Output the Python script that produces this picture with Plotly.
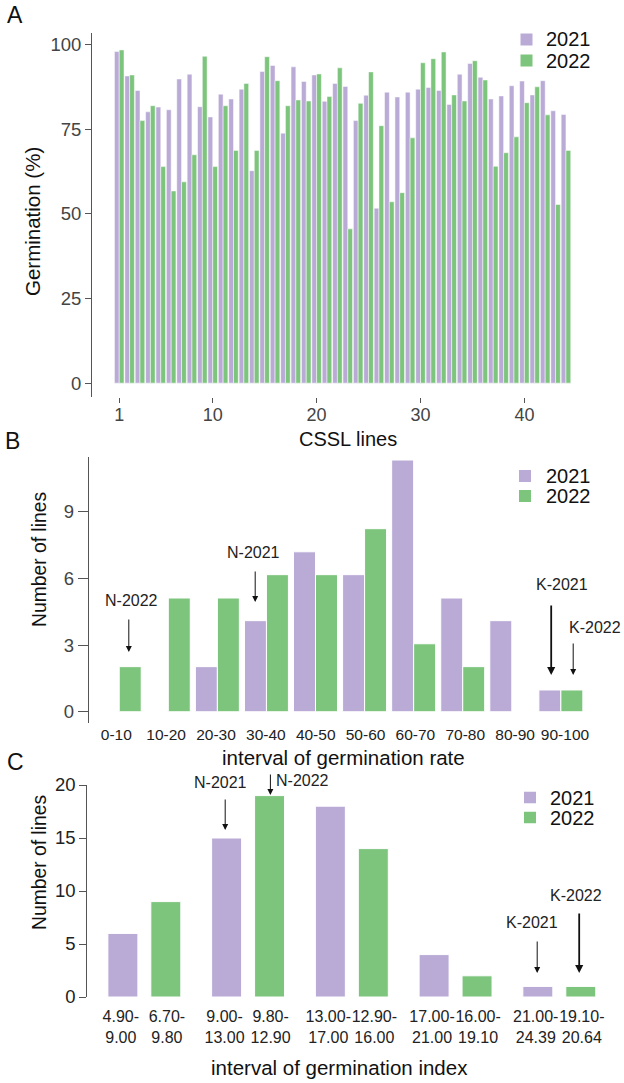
import plotly.graph_objects as go

# ---------------- data ----------------
lines = list(range(1, 45))
germ_2021 = [98.0, 90.8, 86.5, 80.2, 81.6, 80.8, 89.9, 91.3, 81.7, 78.7,
             85.4, 84.0, 86.9, 62.8, 92.1, 93.9, 73.9, 93.5, 89.2, 91.1,
             83.3, 88.6, 87.7, 77.6, 85.1, 51.7, 86.0, 84.6, 86.0, 86.9,
             87.4, 86.5, 82.4, 91.3, 94.5, 90.4, 84.0, 84.9, 87.9, 89.3,
             85.2, 89.4, 80.5, 79.4]
germ_2022 = [98.5, 91.1, 77.6, 82.0, 64.0, 56.8, 59.5, 67.5, 96.6, 64.0,
             82.0, 68.8, 88.6, 68.8, 96.5, 89.4, 82.0, 83.7, 83.4, 91.4,
             84.7, 93.2, 45.6, 82.7, 92.0, 76.1, 53.6, 56.3, 72.5, 94.7,
             95.9, 97.9, 85.2, 83.4, 95.3, 89.6, 64.1, 68.1, 72.8, 82.9,
             87.6, 79.3, 52.8, 68.8]

rate_intervals = ['0-10', '10-20', '20-30', '30-40', '40-50',
                  '50-60', '60-70', '70-80', '80-90', '90-100']
rate_2021 = [0, 0, 2.03, 4.1, 7.2, 6.17, 11.33, 5.12, 4.1, 0.98]
rate_2022 = [2.03, 5.12, 5.12, 6.17, 6.17, 8.24, 3.06, 2.03, 0, 0.98]

index_groups = [0, 1, 2, 3, 4]
index_labels_2021 = ['4.90-<br>9.00', '9.00-<br>13.00', '13.00-<br>17.00',
                     '17.00-<br>21.00', '21.00-<br>24.39']
index_labels_2022 = ['6.70-<br>9.80', '9.80-<br>12.90', '12.90-<br>16.00',
                     '16.00-<br>19.10', '19.10-<br>20.64']
index_2021 = [6, 15, 18, 4, 1]
index_2022 = [9, 19, 14, 2, 1]

series_names = ['2021', '2022']

# ---------------- style ----------------
W, H = 624, 1083
PURPLE = '#B9AAD6'
GREEN = '#7DC47D'
FONT = 'Arial, Liberation Sans, sans-serif'
TICKC = '#444444'
AXC = '#555555'
TXT = '#111111'


def px(x):
    return x / W


def py(y):
    return 1 - y / H


fig = go.Figure()

# ---- panel A ----
wa = 0.46
fig.add_trace(go.Bar(x=lines, y=germ_2021, name=series_names[0], marker_color=PURPLE,
                     marker_line=dict(color='white', width=0.5),
                     width=wa, offset=-wa, xaxis='x', yaxis='y', showlegend=False))
fig.add_trace(go.Bar(x=lines, y=germ_2022, name=series_names[1], marker_color=GREEN,
                     marker_line=dict(color='white', width=0.5),
                     width=wa, offset=0, xaxis='x', yaxis='y', showlegend=False))

# ---- panel B ----
wb = 0.448
bx = list(range(len(rate_intervals)))
fig.add_trace(go.Bar(x=bx, y=rate_2021, name=series_names[0], marker_color=PURPLE,
                     marker_line=dict(color='white', width=1),
                     width=wb, offset=-wb, xaxis='x2', yaxis='y2', showlegend=False))
fig.add_trace(go.Bar(x=bx, y=rate_2022, name=series_names[1], marker_color=GREEN,
                     marker_line=dict(color='white', width=1),
                     width=wb, offset=0, xaxis='x2', yaxis='y2', showlegend=False))
b_tickvals = [i * 1.016 - 0.06 for i in bx]

# ---- panel C ----
sep = 0.207
wc = 0.289
fig.add_trace(go.Bar(x=index_groups, y=index_2021, name=series_names[0], marker_color=PURPLE,
                     marker_line=dict(color='white', width=1),
                     width=wc, offset=-sep - wc / 2, xaxis='x3', yaxis='y3', showlegend=False))
fig.add_trace(go.Bar(x=index_groups, y=index_2022, name=series_names[1], marker_color=GREEN,
                     marker_line=dict(color='white', width=1),
                     width=wc, offset=sep - wc / 2, xaxis='x3', yaxis='y3', showlegend=False))

c_tickvals = []
c_ticktext = []
for g, l1, l2 in zip(index_groups, index_labels_2021, index_labels_2022):
    c_tickvals += [g - sep - 0.02, g + sep + 0.01]
    c_ticktext += [l1, l2]

yax_common = dict(showline=True, linecolor=AXC, linewidth=1, ticks='outside',
                  tickcolor=AXC, showgrid=False, zeroline=False, automargin=False)

fig.update_layout(
    width=W, height=H, autosize=False,
    margin=dict(l=0, r=0, t=0, b=0),
    paper_bgcolor='white', plot_bgcolor='white',
    barmode='overlay', showlegend=False,
    font=dict(family=FONT, color=TXT),
    xaxis=dict(domain=[px(92), px(575)], range=[-1.62, 44.87], anchor='y',
               tickvals=[1, 10, 20, 30, 40], ticks='outside', ticklen=5,
               tickcolor=AXC, showline=False, showgrid=False, zeroline=False,
               ticklabelstandoff=-4, automargin=False,
               tickfont=dict(family=FONT, size=18, color=TICKC)),
    yaxis=dict(domain=[py(397), py(33)], range=[-4.1, 103.5], anchor='x',
               tickvals=[0, 25, 50, 75, 100], ticklen=6,
               tickfont=dict(family=FONT, size=18.5, color=TICKC), **yax_common),
    xaxis2=dict(domain=[px(88.8), px(620)], range=[-0.62, 10.205], anchor='y2',
                tickvals=b_tickvals, ticktext=rate_intervals, ticks='', showline=False,
                showgrid=False, zeroline=False, tickangle=0, automargin=False,
                tickfont=dict(family=FONT, size=15.5, color='#222222')),
    yaxis2=dict(domain=[py(723.3), py(456.7)], range=[-0.52, 11.48], anchor='x2',
                tickvals=[0, 3, 6, 9], ticklen=10,
                tickfont=dict(family=FONT, size=18.5, color=TICKC), **yax_common),
    xaxis3=dict(domain=[px(87.2), px(620)], range=[-0.551, 4.585], anchor='y3',
                tickvals=c_tickvals, ticktext=c_ticktext, ticks='', showline=False,
                showgrid=False, zeroline=False, tickangle=0, automargin=False,
                ticklabelstandoff=8,
                tickfont=dict(family=FONT, size=16, color='#222222')),
    yaxis3=dict(domain=[py(997), py(785)], range=[0, 20], anchor='x3',
                tickvals=[0, 5, 10, 15, 20], ticklen=7,
                tickfont=dict(family=FONT, size=18.5, color='#222222'), **yax_common),
)

# axis titles (placed as in the reference)
for txt, tx, ty, size, ang in [('Germination (%)', 32, 222, 20.5, -90),
                               ('Number of lines', 39, 560, 19.3, -90),
                               ('Number of lines', 39, 863, 19.3, -90),
                               ('CSSL lines', 347.5, 439, 20, 0),
                               ('interval of germination rate', 343, 757, 20.5, 0),
                               ('interval of germination index', 339, 1067, 20.5, 0)]:
    fig.add_annotation(text=txt, x=px(tx), y=py(ty), xref='paper', yref='paper',
                       xanchor='center', yanchor='middle', textangle=ang,
                       showarrow=False, font=dict(size=size, family=FONT, color=TXT))

# manual legends (square + label), pixel positions
legend_specs = [
    # square x0, x1, square height, first-row center y, row step, text x, font size
    (520.5, 532.5, 12, 39.5, 21, 544, 20),
    (519, 531, 12, 476, 20, 544, 20),
    (524, 536, 11.5, 797.5, 20, 548, 20),
]
for sx0, sx1, sh, cy, step, tx, fs in legend_specs:
    for i, (nm, col) in enumerate(zip(series_names, [PURPLE, GREEN])):
        yc = cy + i * step
        fig.add_shape(type='rect', xref='paper', yref='paper',
                      x0=px(sx0), x1=px(sx1), y0=py(yc + sh / 2), y1=py(yc - sh / 2),
                      fillcolor=col, line=dict(width=0))
        fig.add_annotation(text=nm, x=px(tx), y=py(yc), xref='paper', yref='paper',
                           xanchor='left', yanchor='middle', showarrow=False,
                           font=dict(size=fs, family=FONT, color=TXT))

# panel letters
for letter, (lx, ly) in zip(['A', 'B', 'C'], [(15.3, 15.5), (12.4, 441), (15, 762)]):
    fig.add_annotation(text=letter, x=px(lx), y=py(ly), xref='paper', yref='paper',
                       xanchor='center', yanchor='middle',
                       showarrow=False, font=dict(size=23, family=FONT, color=TXT))

# arrows + labels (pixel positions)
arrows = [
    # text, text_x, text_y, arrow_x, y_start, y_end, width
    ('N-2022', 131.4, 600, 128.8, 618, 652, 1),
    ('N-2021', 253, 552, 255.2, 570, 602, 1),
    ('K-2021', 562, 584, 551.2, 604, 675, 1.8),
    ('K-2022', 595, 627, 573.2, 642, 675, 1),
    ('N-2021', 220, 782, 225.2, 798, 830, 1),
    ('N-2022', 302, 780, 270.4, 773, 795, 1),
    ('K-2021', 532, 922, 537.2, 940, 973, 1),
    ('K-2022', 576, 895, 579.2, 912, 973, 1.8),
]
for txt, tx, ty, ax_, y0, y1, aw in arrows:
    fig.add_annotation(text=txt, x=px(tx), y=py(ty), xref='paper', yref='paper',
                       xanchor='center', yanchor='middle',
                       showarrow=False, font=dict(size=16, family=FONT, color='#222222'))
    fig.add_annotation(text='', x=px(ax_), y=py(y1), xref='paper', yref='paper',
                       showarrow=True, ax=0, ay=-(y1 - y0), arrowhead=2,
                       arrowsize=1.2 if aw < 1.5 else 0.9, arrowwidth=aw, arrowcolor='#111111')

fig.write_html('out.html')
